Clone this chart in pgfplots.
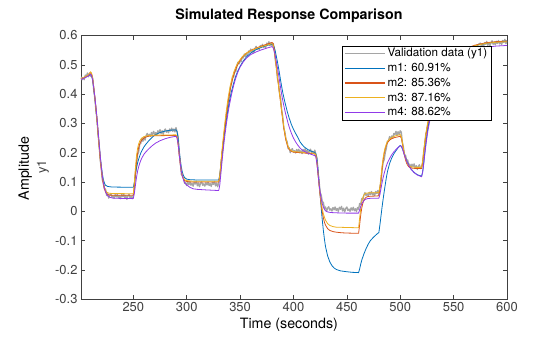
\documentclass[border=0pt]{standalone}
\usepackage{fontspec}
\setmainfont{TeX Gyre Heros}
\usepackage{pgfplots}
\pgfplotsset{compat=1.18}
\definecolor{axcol}{RGB}{64,64,64}
\definecolor{valgray}{RGB}{165,165,165}
\definecolor{mone}{RGB}{0,114,189}
\definecolor{mtwo}{RGB}{217,83,25}
\definecolor{mthree}{RGB}{237,177,32}
\definecolor{mfour}{RGB}{145,58,232}
\begin{document}
\begin{tikzpicture}
\begin{axis}[
  name=ax, scale only axis, width=426bp, height=263.8bp,
  xmin=201, xmax=600, ymin=-0.3, ymax=0.6,
  xtick={250,300,350,400,450,500,550,600},
  ytick={-0.3,-0.2,-0.1,0,0.1,0.2,0.3,0.4,0.5,0.6},
  tick align=inside, major tick length=4.5bp,
  axis line style={axcol, line width=0.5bp},
  tick style={axcol, line width=0.5bp},
  ticklabel style={font=\fontsize{13}{15}\selectfont, text=axcol},
  /pgf/number format/assume math mode=true,
  yticklabel style={/pgf/number format/fixed, /pgf/number format/precision=1},
  scaled y ticks=false,
  title={Simulated Response Comparison},
  title style={font=\bfseries\fontsize{14.3}{16}\selectfont, at={(axis description cs:0.488,1)}, anchor=south, yshift=3bp},
  xlabel={Time (seconds)},
  xlabel style={font=\fontsize{14.3}{16}\selectfont, at={(axis description cs:0.488,-0.0974)}, anchor=center},
  ylabel={Amplitude},
  ylabel style={font=\fontsize{14.3}{16}\selectfont, at={(axis description cs:-0.131,0.495)}, anchor=center},
  legend style={at={(axis description cs:0.613,0.962)}, anchor=north west, draw=black, line width=0.5bp, fill=white,
    font=\fontsize{11.7}{13}\selectfont, inner xsep=2bp, inner ysep=1.5bp, row sep=2.6bp,
    nodes={inner ysep=1.2bp}},
  legend cell align=left,
  legend image code/.code={\draw[#1, line width=1.2bp] (0bp,0bp) -- (40bp,0bp);},
  every axis plot/.append style={line join=round},
]
\addplot[valgray, line width=1.3bp] coordinates {
(201,0.459)(202,0.449)(203,0.457)(204,0.449)(205,0.465)(206,0.460)(207,0.472)(208,0.459)(209,0.472)(210,0.461)
(211,0.465)(212,0.453)(213,0.411)(214,0.386)(215,0.343)(216,0.315)(217,0.262)(218,0.227)(219,0.175)(220,0.147)
(221,0.107)(222,0.098)(223,0.076)(224,0.076)(225,0.054)(226,0.060)(227,0.045)(228,0.056)(229,0.060)(230,0.048)
(231,0.053)(232,0.045)(233,0.057)(234,0.049)(235,0.058)(236,0.046)(237,0.053)(238,0.043)(239,0.057)(240,0.050)
(241,0.060)(242,0.044)(243,0.054)(244,0.041)(245,0.053)(246,0.058)(247,0.046)(248,0.051)(249,0.043)(250,0.055)
(251,0.077)(252,0.132)(253,0.160)(254,0.194)(255,0.202)(256,0.229)(257,0.232)(258,0.249)(259,0.239)(260,0.253)
(261,0.243)(262,0.258)(263,0.266)(264,0.256)(265,0.263)(266,0.256)(267,0.269)(268,0.262)(269,0.273)(270,0.262)
(271,0.269)(272,0.260)(273,0.275)(274,0.268)(275,0.279)(276,0.265)(277,0.275)(278,0.263)(279,0.276)(280,0.281)
(281,0.270)(282,0.276)(283,0.268)(284,0.281)(285,0.274)(286,0.284)(287,0.273)(288,0.281)(289,0.271)(290,0.286)
(291,0.271)(292,0.254)(293,0.199)(294,0.169)(295,0.126)(296,0.120)(297,0.114)(298,0.096)(299,0.098)(300,0.088)
(301,0.099)(302,0.091)(303,0.101)(304,0.089)(305,0.096)(306,0.086)(307,0.100)(308,0.093)(309,0.103)(310,0.087)
(311,0.097)(312,0.084)(313,0.096)(314,0.101)(315,0.089)(316,0.094)(317,0.086)(318,0.098)(319,0.090)(320,0.100)
(321,0.088)(322,0.095)(323,0.085)(324,0.099)(325,0.092)(326,0.102)(327,0.087)(328,0.097)(329,0.084)(330,0.096)
(331,0.118)(332,0.146)(333,0.191)(334,0.215)(335,0.260)(336,0.287)(337,0.327)(338,0.343)(339,0.377)(340,0.392)
(341,0.426)(342,0.437)(343,0.461)(344,0.458)(345,0.479)(346,0.476)(347,0.497)(348,0.509)(349,0.503)(350,0.513)
(351,0.510)(352,0.527)(353,0.523)(354,0.537)(355,0.528)(356,0.538)(357,0.531)(358,0.547)(359,0.542)(360,0.554)
(361,0.541)(362,0.553)(363,0.542)(364,0.556)(365,0.563)(366,0.552)(367,0.559)(368,0.552)(369,0.566)(370,0.559)
(371,0.570)(372,0.559)(373,0.567)(374,0.558)(375,0.574)(376,0.568)(377,0.579)(378,0.565)(379,0.576)(380,0.564)
(381,0.573)(382,0.556)(383,0.516)(384,0.491)(385,0.453)(386,0.437)(387,0.402)(388,0.385)(389,0.345)(390,0.322)
(391,0.282)(392,0.271)(393,0.244)(394,0.239)(395,0.214)(396,0.217)(397,0.200)(398,0.210)(399,0.214)(400,0.202)
(401,0.207)(402,0.199)(403,0.211)(404,0.203)(405,0.212)(406,0.200)(407,0.207)(408,0.197)(409,0.211)(410,0.204)
(411,0.214)(412,0.199)(413,0.208)(414,0.195)(415,0.207)(416,0.212)(417,0.200)(418,0.205)(419,0.197)(420,0.209)
(421,0.195)(422,0.182)(423,0.135)(424,0.102)(425,0.064)(426,0.056)(427,0.032)(428,0.031)(429,0.009)(430,0.015)
(431,0.000)(432,0.011)(433,0.016)(434,0.004)(435,0.009)(436,0.001)(437,0.013)(438,0.005)(439,0.015)(440,0.003)
(441,0.010)(442,0.000)(443,0.014)(444,0.007)(445,0.017)(446,0.001)(447,0.011)(448,-0.002)(449,0.010)(450,0.015)
(451,0.003)(452,0.008)(453,0.000)(454,0.012)(455,0.004)(456,0.014)(457,0.002)(458,0.009)(459,-0.001)(460,0.013)
(461,0.007)(462,0.027)(463,0.024)(464,0.044)(465,0.039)(466,0.056)(467,0.064)(468,0.054)(469,0.060)(470,0.053)
(471,0.065)(472,0.057)(473,0.068)(474,0.056)(475,0.063)(476,0.053)(477,0.068)(478,0.061)(479,0.071)(480,0.056)
(481,0.084)(482,0.099)(483,0.141)(484,0.168)(485,0.176)(486,0.201)(487,0.215)(488,0.240)(489,0.240)(490,0.255)
(491,0.247)(492,0.257)(493,0.250)(494,0.266)(495,0.261)(496,0.273)(497,0.260)(498,0.272)(499,0.261)(500,0.275)
(501,0.270)(502,0.236)(503,0.219)(504,0.193)(505,0.191)(506,0.173)(507,0.175)(508,0.158)(509,0.161)(510,0.149)
(511,0.161)(512,0.153)(513,0.162)(514,0.147)(515,0.156)(516,0.143)(517,0.154)(518,0.159)(519,0.146)(520,0.151)
(521,0.165)(522,0.205)(523,0.229)(524,0.265)(525,0.275)(526,0.300)(527,0.307)(528,0.336)(529,0.344)(530,0.369)
(532,0.385)(534,0.410)(536,0.432)(538,0.452)(540,0.468)(543,0.488)(546,0.505)(550,0.522)(555,0.537)(560,0.548)
(565,0.556)(570,0.562)(575,0.574)(576,0.563)(577,0.571)(578,0.561)(579,0.576)(580,0.570)(581,0.580)(582,0.566)
(583,0.576)(584,0.564)(585,0.576)(586,0.582)(587,0.570)(588,0.576)(589,0.568)(590,0.580)(591,0.573)(592,0.583)
(593,0.571)(594,0.579)(595,0.569)(596,0.583)(597,0.576)(598,0.587)(599,0.572)(600,0.582)
};
\addlegendentry{Validation data (y1)}
\addplot[mone, line width=0.8bp] coordinates {
(201,0.452)(205,0.458)(208,0.463)(210,0.468)(211,0.462)(212,0.445)(213,0.417)(214,0.385)(215,0.35)(216,0.31)
(217,0.268)(218,0.226)(219,0.188)(220,0.155)(221,0.128)(222,0.108)(223,0.096)(224,0.089)(226,0.085)(230,0.083)(250,0.082)
(251,0.10)(252,0.125)(253,0.148)(254,0.165)(255,0.178)(256,0.189)(257,0.199)(258,0.207)(260,0.22)(262,0.23)
(265,0.243)(268,0.254)(271,0.262)(275,0.269)(280,0.274)(285,0.277)(290,0.278)
(291,0.272)(292,0.248)(293,0.21)(294,0.175)(295,0.15)(296,0.133)(297,0.122)(298,0.115)(300,0.11)(303,0.108)(310,0.107)(330,0.107)
(331,0.125)(332,0.16)(333,0.195)(334,0.225)(335,0.255)(336,0.282)(337,0.308)(338,0.332)(339,0.355)(340,0.375)
(342,0.41)(344,0.438)(346,0.462)(348,0.48)(350,0.495)(353,0.513)(356,0.527)(360,0.54)(365,0.552)(370,0.56)(375,0.566)(380,0.57)
(381,0.568)(382,0.56)(383,0.546)(384,0.528)(385,0.51)(386,0.49)(387,0.468)(388,0.446)(389,0.425)(390,0.405)
(392,0.372)(394,0.343)(396,0.318)(398,0.297)(400,0.28)(402,0.266)(404,0.253)(406,0.238)(408,0.228)(410,0.22)
(413,0.212)(416,0.206)(420,0.201)
(421,0.196)(422,0.18)(423,0.145)(424,0.1)(425,0.055)(426,0.01)(427,-0.03)(428,-0.065)(429,-0.095)(430,-0.12)
(432,-0.152)(434,-0.172)(436,-0.185)(438,-0.193)(440,-0.198)(444,-0.203)(450,-0.206)(455,-0.208)(461,-0.209)
(462,-0.196)(463,-0.18)(464,-0.166)(466,-0.145)(468,-0.127)(470,-0.112)(472,-0.1)(475,-0.088)(478,-0.078)(480,-0.072)
(481,-0.045)(482,-0.015)(483,0.015)(484,0.042)(485,0.068)(486,0.092)(487,0.115)(488,0.135)(490,0.163)(492,0.182)
(494,0.196)(496,0.207)(498,0.217)(500,0.225)
(501,0.222)(502,0.214)(503,0.204)(504,0.193)(506,0.173)(508,0.157)(510,0.145)(513,0.133)(516,0.125)(520,0.12)
(521,0.135)(522,0.165)(523,0.2)(524,0.232)(525,0.26)(526,0.285)(528,0.325)(530,0.36)(533,0.4)(536,0.435)
(540,0.468)(545,0.5)(550,0.522)(555,0.538)(560,0.55)(570,0.565)(580,0.573)(590,0.578)(600,0.581)
};
\addlegendentry{m1: 60.91\%}
\addplot[mtwo, line width=0.8bp] coordinates {
(201,0.452)(205,0.458)(208,0.465)(210,0.475)(211,0.468)(212,0.45)(213,0.42)(214,0.387)(215,0.35)(216,0.31)
(217,0.265)(218,0.22)(219,0.178)(220,0.142)(221,0.112)(222,0.09)(223,0.075)(224,0.066)(225,0.06)(227,0.056)(230,0.055)(250,0.055)
(251,0.085)(252,0.13)(253,0.17)(254,0.198)(255,0.218)(256,0.23)(257,0.238)(258,0.244)(260,0.25)(262,0.254)
(265,0.257)(270,0.258)(290,0.259)
(291,0.252)(292,0.228)(293,0.193)(294,0.16)(295,0.135)(296,0.12)(297,0.11)(298,0.105)(300,0.102)(305,0.1)(330,0.1)
(331,0.118)(332,0.158)(333,0.198)(334,0.232)(335,0.265)(336,0.297)(337,0.326)(338,0.353)(339,0.378)(340,0.4)
(341,0.42)(342,0.437)(344,0.465)(346,0.486)(348,0.502)(350,0.515)(353,0.53)(356,0.54)(360,0.549)(365,0.557)
(370,0.564)(375,0.57)(380,0.576)
(381,0.572)(382,0.552)(383,0.523)(384,0.492)(385,0.46)(386,0.43)(387,0.4)(388,0.37)(389,0.34)(390,0.31)
(391,0.283)(392,0.26)(393,0.242)(394,0.228)(395,0.218)(396,0.211)(398,0.205)(400,0.202)(410,0.199)(420,0.196)
(421,0.19)(422,0.165)(423,0.128)(424,0.088)(425,0.052)(426,0.022)(427,-0.003)(428,-0.022)(429,-0.037)(430,-0.047)
(432,-0.059)(434,-0.065)(437,-0.069)(440,-0.071)(445,-0.073)(450,-0.074)(461,-0.075)
(462,-0.045)(463,-0.012)(464,0.012)(465,0.028)(466,0.038)(467,0.044)(468,0.048)(470,0.051)(475,0.052)(480,0.053)
(481,0.075)(482,0.11)(483,0.145)(484,0.175)(485,0.198)(486,0.214)(487,0.226)(488,0.234)(490,0.243)(492,0.248)
(495,0.252)(500,0.256)
(501,0.25)(502,0.232)(503,0.21)(504,0.19)(505,0.175)(506,0.164)(507,0.157)(508,0.152)(510,0.148)(515,0.146)(520,0.146)
(521,0.168)(522,0.2)(523,0.232)(524,0.26)(525,0.283)(526,0.303)(528,0.337)(530,0.367)(533,0.405)(536,0.44)
(540,0.475)(545,0.507)(550,0.528)(555,0.543)(560,0.554)(570,0.567)(580,0.575)(590,0.579)(600,0.581)
};
\addlegendentry{m2: 85.36\%}
\addplot[mthree, line width=0.8bp] coordinates {
(201,0.453)(205,0.459)(208,0.466)(210,0.476)(211,0.47)(212,0.452)(213,0.422)(214,0.388)(215,0.35)(216,0.31)
(217,0.265)(218,0.222)(219,0.182)(220,0.148)(221,0.12)(222,0.098)(223,0.082)(224,0.072)(225,0.066)(227,0.062)(230,0.061)(250,0.06)
(251,0.1)(252,0.15)(253,0.19)(254,0.215)(255,0.23)(256,0.24)(257,0.246)(258,0.25)(260,0.255)(263,0.258)(270,0.26)(290,0.261)
(291,0.254)(292,0.23)(293,0.195)(294,0.163)(295,0.138)(296,0.123)(297,0.113)(298,0.108)(300,0.105)(305,0.103)(330,0.103)
(331,0.122)(332,0.165)(333,0.207)(334,0.243)(335,0.277)(336,0.31)(337,0.34)(338,0.367)(339,0.392)(340,0.413)
(341,0.432)(342,0.448)(344,0.474)(346,0.493)(348,0.507)(350,0.518)(353,0.531)(356,0.54)(360,0.548)(365,0.556)
(370,0.562)(375,0.567)(380,0.572)
(381,0.568)(382,0.548)(383,0.52)(384,0.49)(385,0.46)(386,0.43)(387,0.4)(388,0.372)(389,0.343)(390,0.315)
(391,0.288)(392,0.266)(393,0.248)(394,0.233)(395,0.222)(396,0.214)(398,0.207)(400,0.204)(410,0.201)(420,0.198)
(421,0.192)(422,0.168)(423,0.132)(424,0.093)(425,0.058)(426,0.03)(427,0.008)(428,-0.008)(429,-0.02)(430,-0.03)
(432,-0.042)(434,-0.048)(437,-0.052)(440,-0.054)(450,-0.055)(461,-0.056)
(462,-0.022)(463,0.01)(464,0.033)(465,0.048)(466,0.056)(467,0.06)(468,0.062)(470,0.063)(480,0.064)
(481,0.085)(482,0.12)(483,0.155)(484,0.183)(485,0.204)(486,0.219)(487,0.23)(488,0.238)(490,0.247)(492,0.252)
(495,0.257)(500,0.262)
(501,0.255)(502,0.236)(503,0.214)(504,0.195)(505,0.18)(506,0.169)(507,0.161)(508,0.156)(510,0.152)(515,0.15)(520,0.15)
(521,0.172)(522,0.205)(523,0.237)(524,0.265)(525,0.288)(526,0.308)(528,0.341)(530,0.37)(533,0.408)(536,0.442)
(540,0.476)(545,0.506)(550,0.527)(555,0.541)(560,0.552)(570,0.565)(580,0.573)(590,0.577)(600,0.579)
};
\addlegendentry{m3: 87.16\%}
\addplot[mfour, line width=0.8bp] coordinates {
(201,0.45)(205,0.456)(208,0.462)(210,0.468)(211,0.462)(212,0.447)(213,0.42)(214,0.39)(215,0.356)(216,0.318)
(217,0.276)(218,0.232)(219,0.19)(220,0.152)(221,0.12)(222,0.096)(223,0.079)(224,0.067)(225,0.059)(226,0.053)
(228,0.048)(231,0.045)(240,0.044)(250,0.044)
(251,0.062)(252,0.09)(253,0.116)(254,0.137)(255,0.152)(256,0.164)(257,0.174)(258,0.182)(260,0.195)(262,0.204)
(265,0.215)(268,0.225)(271,0.233)(275,0.241)(280,0.248)(285,0.253)(290,0.256)
(291,0.25)(292,0.228)(293,0.195)(294,0.162)(295,0.137)(296,0.12)(297,0.107)(298,0.098)(300,0.09)(303,0.082)
(306,0.077)(310,0.075)(319,0.073)(330,0.071)
(331,0.09)(332,0.128)(333,0.167)(334,0.203)(335,0.236)(336,0.266)(337,0.294)(338,0.319)(339,0.342)(340,0.363)
(342,0.399)(344,0.43)(346,0.455)(348,0.476)(350,0.492)(353,0.51)(356,0.523)(360,0.535)(365,0.544)(370,0.551)
(375,0.557)(380,0.562)
(381,0.558)(382,0.546)(383,0.53)(384,0.51)(385,0.49)(386,0.468)(387,0.445)(388,0.42)(389,0.398)(390,0.378)
(391,0.36)(392,0.343)(393,0.328)(394,0.314)(395,0.3)(396,0.288)(397,0.277)(398,0.267)(400,0.25)(402,0.237)
(404,0.226)(406,0.217)(408,0.21)(410,0.205)(414,0.198)(420,0.19)
(421,0.185)(422,0.163)(423,0.128)(424,0.093)(425,0.064)(426,0.042)(427,0.026)(428,0.015)(429,0.007)(430,0.002)
(432,-0.002)(435,-0.004)(440,-0.005)(450,-0.006)(461,-0.006)
(462,0.006)(463,0.017)(464,0.026)(465,0.032)(466,0.037)(467,0.04)(468,0.042)(470,0.044)(475,0.045)(480,0.045)
(481,0.058)(482,0.078)(483,0.098)(484,0.115)(485,0.13)(486,0.143)(487,0.155)(488,0.165)(490,0.18)(492,0.193)
(494,0.203)(496,0.211)(498,0.218)(500,0.224)
(501,0.222)(502,0.214)(503,0.203)(504,0.191)(506,0.171)(508,0.156)(510,0.144)(513,0.132)(516,0.124)(520,0.118)
(521,0.133)(522,0.162)(523,0.195)(524,0.225)(525,0.252)(526,0.277)(528,0.316)(530,0.35)(533,0.39)(536,0.425)
(540,0.458)(545,0.49)(550,0.512)(555,0.528)(560,0.539)(570,0.553)(580,0.56)(590,0.564)(600,0.566)
};
\addlegendentry{m4: 88.62\%}
\end{axis}
\node[rotate=90, font=\fontsize{13}{15}\selectfont, text=axcol] at ([xshift=-38bp,yshift=0.7bp]ax.west) {y1};
\path ([shift={(-81bp,-37.7bp)}]ax.south west) rectangle ([shift={(53bp,35.5bp)}]ax.north east);
\end{tikzpicture}
\end{document}
